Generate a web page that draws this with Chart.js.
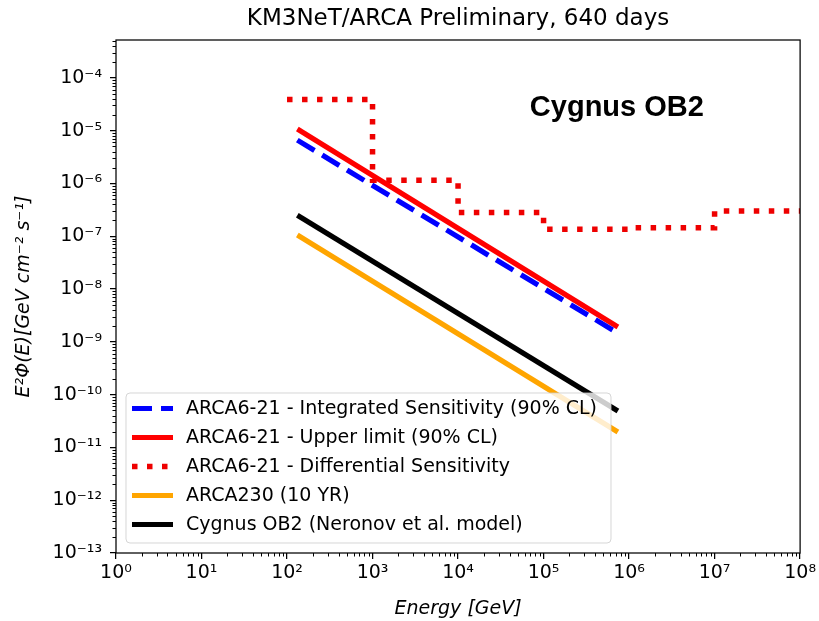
<!DOCTYPE html>
<html>
<head>
<meta charset="utf-8">
<script src="https://cdn.jsdelivr.net/npm/chart.js@4/dist/chart.umd.min.js"></script>
<style>
  html, body { margin: 0; padding: 0; background: #fff; }
  canvas { display: block; }
</style>
</head>
<body>
<canvas id="c" width="819" height="621"></canvas>
<script>
// ---------- data ----------
const energyBounds   = [132, 7.4e5];          // GeV, start/end of the power-law lines
const integratedSens = [6.6e-6, 1.46e-9];     // ARCA6-21 integrated sensitivity
const upperLimit     = [1.07e-5, 1.9e-9];     // ARCA6-21 upper limit
const arca230        = [1.05e-7, 1.95e-11];   // ARCA230 (10 YR)
const cygnusModel    = [2.5e-7, 4.9e-11];     // Neronov et al. model
const diffSensE      = [1e2, 1e3, 1e4, 1e5, 1e6, 1e7, 1e8];
const diffSens       = [3.9e-5, 1.15e-6, 2.8e-7, 1.35e-7, 1.44e-7, 3.0e-7, 3.0e-7];
const xDecades       = [0, 1, 2, 3, 4, 5, 6, 7, 8];
const yDecades       = [-13, -12, -11, -10, -9, -8, -7, -6, -5, -4];
const seriesLabels   = [
  'ARCA6-21 - Integrated Sensitivity (90% CL)',
  'ARCA6-21 - Upper limit (90% CL)',
  'ARCA6-21 - Differential Sensitivity',
  'ARCA230 (10 YR)',
  'Cygnus OB2 (Neronov et al. model)'
];
const titleText  = 'KM3NeT/ARCA Preliminary, 640 days';
const sourceText = 'Cygnus OB2';
const sourceAnchor = { x: 7.2e5, y: 1.9e-5 };

// ---------- helpers ----------
const SUP = { '-': '\u207B', '0': '\u2070', '1': '\u00B9', '2': '\u00B2', '3': '\u00B3',
  '4': '\u2074', '5': '\u2075', '6': '\u2076', '7': '\u2077', '8': '\u2078', '9': '\u2079' };
const pow10Label = v => {
  const e = Math.round(Math.log10(v));
  return '10' + String(e).split('').map(c => SUP[c]).join('');
};
const pairs = (xs, ys) => xs.map((x, i) => ({ x, y: ys[i] }));

const LW = 5.2;
const datasets = [
  { label: seriesLabels[0], data: pairs(energyBounds, integratedSens), borderColor: '#0000ff',
    borderDash: [20, 9], borderWidth: LW },
  { label: seriesLabels[1], data: pairs(energyBounds, upperLimit), borderColor: '#ff0000',
    borderWidth: LW },
  { label: seriesLabels[2], data: pairs(diffSensE, diffSens), borderColor: '#ee0000',
    borderDash: [5.5, 9.5], borderWidth: 5.5, stepped: 'before' },
  { label: seriesLabels[3], data: pairs(energyBounds, arca230), borderColor: '#ffa500',
    borderWidth: LW },
  { label: seriesLabels[4], data: pairs(energyBounds, cygnusModel), borderColor: '#000000',
    borderWidth: LW }
].map(d => Object.assign({ pointRadius: 0, fill: false, tension: 0, borderCapStyle: 'butt' }, d));

// ---------- extras plugin: frame, minor ticks, annotation, legend ----------
const extras = {
  id: 'extras',
  afterDatasetsDraw(chart) {
    const { ctx, chartArea: a, scales: { x, y } } = chart;
    ctx.save();
    // frame
    ctx.strokeStyle = '#000';
    ctx.lineWidth = 1.25;
    ctx.strokeRect(a.left, a.top, a.right - a.left, a.bottom - a.top);
    // minor ticks
    ctx.lineWidth = 1;
    ctx.beginPath();
    for (let e = xDecades[0]; e < xDecades[xDecades.length - 1]; e++) {
      for (let k = 2; k <= 9; k++) {
        const px = Math.round(x.getPixelForValue(k * Math.pow(10, e))) + 0.5;
        ctx.moveTo(px, a.bottom); ctx.lineTo(px, a.bottom + 3.5);
      }
    }
    for (let e = yDecades[0]; e <= yDecades[yDecades.length - 1]; e++) {
      for (let k = 2; k <= 9; k++) {
        const v = k * Math.pow(10, e);
        if (v > y.max) continue;
        const py = Math.round(y.getPixelForValue(v)) + 0.5;
        ctx.moveTo(a.left, py); ctx.lineTo(a.left - 3.5, py);
      }
    }
    ctx.stroke();
    // source annotation
    ctx.fillStyle = '#000';
    ctx.font = 'bold 29px "Liberation Sans", Arial, sans-serif';
    ctx.textAlign = 'center';
    ctx.textBaseline = 'alphabetic';
    ctx.fillText(sourceText, x.getPixelForValue(sourceAnchor.x), y.getPixelForValue(sourceAnchor.y));
    // legend
    const lx = a.left + 10, ly = a.top + 353, lw = 485, lh = 150, rowH = 29;
    ctx.beginPath();
    ctx.roundRect(lx, ly, lw, lh, 4);
    ctx.fillStyle = 'rgba(255,255,255,0.8)';
    ctx.fill();
    ctx.strokeStyle = 'rgba(204,204,204,0.8)';
    ctx.lineWidth = 1;
    ctx.stroke();
    ctx.font = '19px "DejaVu Sans", sans-serif';
    ctx.textAlign = 'left';
    ctx.textBaseline = 'middle';
    chart.data.datasets.forEach((ds, i) => {
      const cy = ly + 15.5 + i * rowH;
      ctx.beginPath();
      ctx.setLineDash(ds.borderDash || []);
      ctx.lineCap = 'butt';
      ctx.strokeStyle = ds.borderColor;
      ctx.lineWidth = ds.borderWidth;
      ctx.moveTo(lx + 6, cy); ctx.lineTo(lx + 47, cy);
      ctx.stroke();
      ctx.setLineDash([]);
      ctx.fillStyle = '#000';
      ctx.fillText(ds.label, lx + 60, cy + 1);
    });
    ctx.restore();
  }
};

Chart.defaults.color = '#000';
Chart.defaults.font.family = '"DejaVu Sans", sans-serif';

new Chart(document.getElementById('c'), {
  type: 'line',
  data: { datasets },
  plugins: [extras],
  options: {
    responsive: false,
    animation: false,
    layout: { padding: { left: 0, right: 16, top: 0, bottom: 0 } },
    plugins: {
      legend: { display: false },
      tooltip: { enabled: false },
      title: {
        display: true, text: titleText, color: '#000', fullSize: false,
        font: { size: 23, weight: 'normal' }, padding: { top: 5, bottom: 7.4 }
      }
    },
    scales: {
      x: {
        type: 'logarithmic', min: 1, max: 1e8,
        afterBuildTicks: s => { s.ticks = xDecades.map(e => ({ value: Math.pow(10, e) })); },
        afterFit: s => { s.height = 68; },
        ticks: { callback: v => pow10Label(v), autoSkip: false, maxRotation: 0, padding: 3,
                 font: { size: 19 } },
        grid: { display: true, drawOnChartArea: false, drawTicks: true, tickLength: 6,
                color: '#000', lineWidth: 1.25 },
        border: { display: false },
        title: { display: true, text: 'Energy [GeV]', font: { size: 19, style: 'italic' },
                 padding: { top: 0, bottom: 1 } }
      },
      y: {
        type: 'logarithmic', min: 1e-13, max: 5.2e-4,
        afterBuildTicks: s => { s.ticks = yDecades.map(e => ({ value: Math.pow(10, e) })); },
        afterFit: s => { s.width = 116; },
        ticks: { callback: v => pow10Label(v), autoSkip: false, padding: 8,
                 font: { size: 19 } },
        grid: { display: true, drawOnChartArea: false, drawTicks: true, tickLength: 6,
                color: '#000', lineWidth: 1.25 },
        border: { display: false },
        title: { display: true, text: 'E\u00B2\u03A6(E)[GeV cm\u207B\u00B2 s\u207B\u00B9]',
                 font: { size: 19, style: 'italic' }, padding: { top: 13, bottom: 0 } }
      }
    }
  }
});
</script>
</body>
</html>
